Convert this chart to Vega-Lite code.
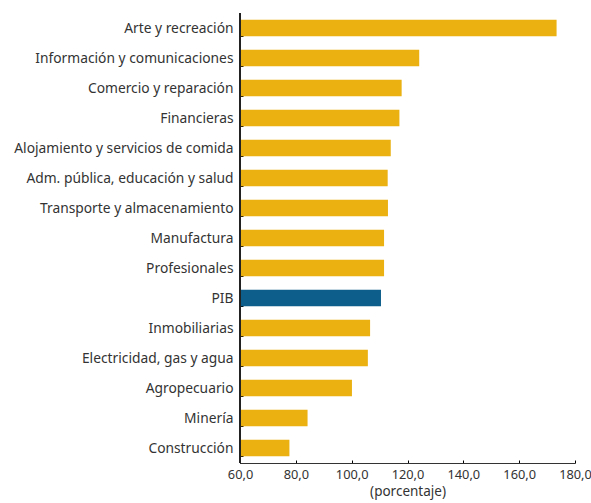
{
  "$schema": "https://vega.github.io/schema/vega-lite/v6.json",
  "width": 335,
  "height": 450,
  "autosize": "none",
  "padding": {"left": 240, "top": 13, "right": 16, "bottom": 40},
  "background": "white",
  "data": {
    "values": [
      {"sector": "Arte y recreación", "valor": 173.4, "grupo": "sector"},
      {"sector": "Información y comunicaciones", "valor": 124.2, "grupo": "sector"},
      {"sector": "Comercio y reparación", "valor": 117.9, "grupo": "sector"},
      {"sector": "Financieras", "valor": 117.1, "grupo": "sector"},
      {"sector": "Alojamiento y servicios de comida", "valor": 114.0, "grupo": "sector"},
      {"sector": "Adm. pública, educación y salud", "valor": 112.9, "grupo": "sector"},
      {"sector": "Transporte y almacenamiento", "valor": 113.0, "grupo": "sector"},
      {"sector": "Manufactura", "valor": 111.6, "grupo": "sector"},
      {"sector": "Profesionales", "valor": 111.6, "grupo": "sector"},
      {"sector": "PIB", "valor": 110.5, "grupo": "PIB"},
      {"sector": "Inmobiliarias", "valor": 106.6, "grupo": "sector"},
      {"sector": "Electricidad, gas y agua", "valor": 105.8, "grupo": "sector"},
      {"sector": "Agropecuario", "valor": 100.1, "grupo": "sector"},
      {"sector": "Minería", "valor": 84.2, "grupo": "sector"},
      {"sector": "Construcción", "valor": 77.7, "grupo": "sector"}
    ]
  },
  "layer": [
    {
      "mark": {"type": "bar", "clip": true},
      "encoding": {
        "y": {
          "field": "sector",
          "type": "nominal",
          "sort": null,
          "scale": {"paddingInner": 0.45, "paddingOuter": 0.225},
          "axis": {
            "title": null,
            "domain": true,
            "domainWidth": 1,
            "ticks": true,
            "tickBand": "extent",
            "tickSize": -3,
            "tickWidth": 1,
            "tickColor": "#000000",
            "domainColor": "#000000",
            "labelFont": "Noto Sans",
            "labelFontSize": 13.8,
            "labelColor": "#333",
            "labelPadding": 10,
            "labelLimit": 300
          }
        },
        "x": {
          "field": "valor",
          "type": "quantitative",
          "scale": {"domain": [60, 180], "nice": false, "zero": false},
          "axis": {
            "values": [60, 80, 100, 120, 140, 160, 180],
            "labelExpr": "replace(format(datum.value, '.1f'), '.', ',')",
            "labelFlush": false,
            "grid": false,
            "domain": true,
            "domainWidth": 1,
            "ticks": true,
            "tickSize": -3,
            "tickWidth": 1,
            "tickColor": "#000000",
            "domainColor": "#333333",
            "labelFont": "Noto Sans",
            "labelFontSize": 12.8,
            "labelColor": "#333",
            "labelPadding": 8,
            "title": "(porcentaje)",
            "titleFont": "Noto Sans",
            "titleFontSize": 13.5,
            "titleFontWeight": "normal",
            "titleColor": "#333",
            "titlePadding": 4
          }
        },
        "color": {
          "field": "grupo",
          "type": "nominal",
          "scale": {"domain": ["sector", "PIB"], "range": ["#EAB110", "#0D5E8B"]},
          "legend": null
        }
      }
    },
    {
      "mark": {"type": "rule", "color": "#222222", "strokeWidth": 1},
      "encoding": {"x": {"datum": 60, "type": "quantitative"}}
    }
  ],
  "config": {"view": {"stroke": null}}
}
